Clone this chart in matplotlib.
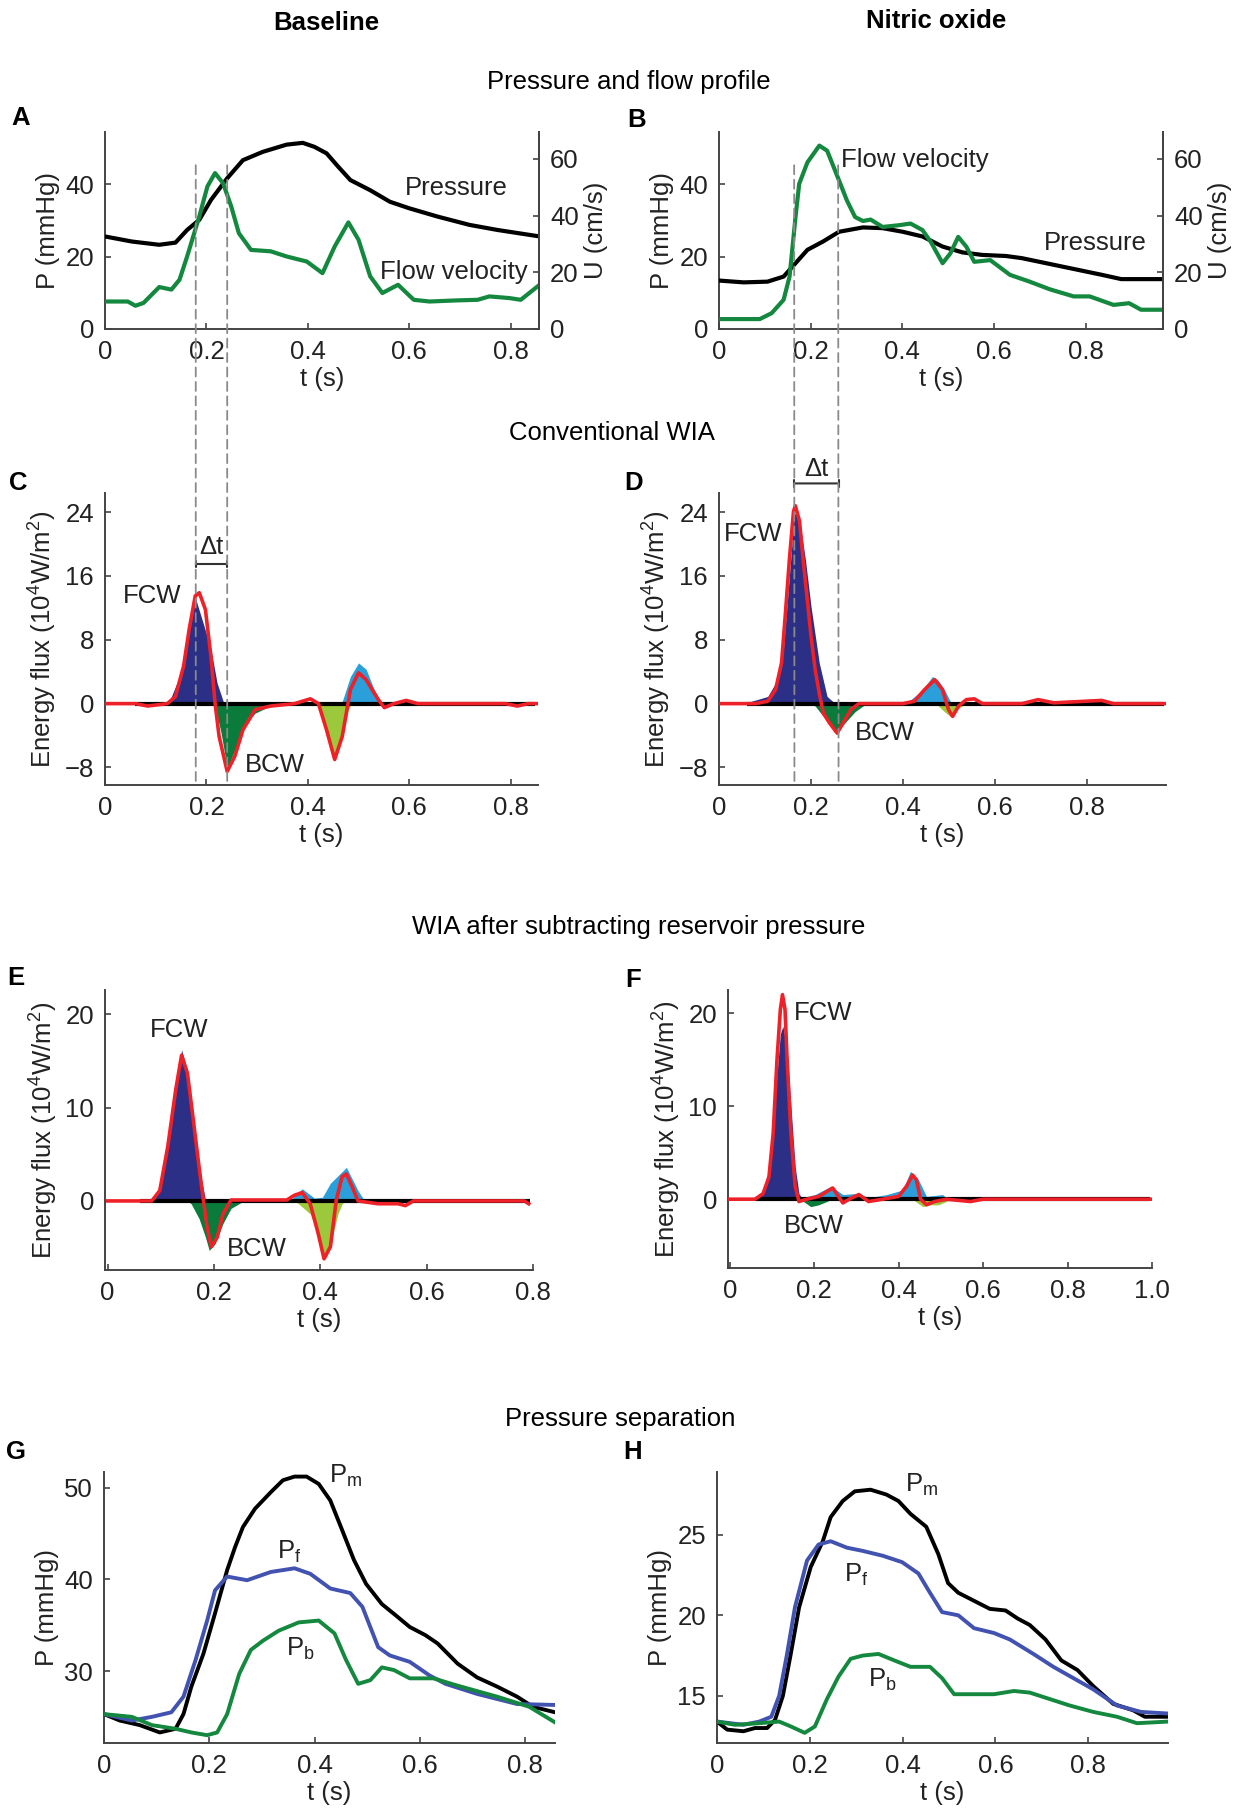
import numpy as np
import matplotlib
matplotlib.use('Agg')
import matplotlib.pyplot as plt
from matplotlib.patches import ConnectionPatch
from matplotlib import font_manager

# ---------------- data ----------------
# Panel A (baseline pressure / flow)
A_P_t = [0, 0.053, 0.107, 0.139, 0.162, 0.186, 0.209, 0.241, 0.272, 0.311, 0.358, 0.39, 0.413, 0.437, 0.46, 0.484, 0.523, 0.562, 0.6, 0.656, 0.719, 0.774, 0.853]
A_P = [25.6, 24.2, 23.3, 23.9, 27.4, 30.2, 35.7, 41.7, 46.7, 49.0, 51.0, 51.5, 50.4, 48.6, 44.9, 41.2, 38.4, 35.2, 33.4, 31.1, 28.8, 27.4, 25.7]
A_U_t = [0, 0.045, 0.06, 0.076, 0.107, 0.131, 0.147, 0.162, 0.186, 0.202, 0.217, 0.233, 0.249, 0.264, 0.288, 0.327, 0.358, 0.398, 0.429, 0.453, 0.48, 0.5, 0.523, 0.547, 0.578, 0.609, 0.64, 0.696, 0.735, 0.758, 0.798, 0.82, 0.853]
A_U = [9.7, 9.7, 8.2, 9.2, 14.8, 13.9, 17.4, 25.6, 39.7, 50.3, 55.0, 51.4, 43.2, 33.8, 27.9, 27.4, 25.6, 23.8, 19.7, 29.1, 37.6, 31.5, 18.6, 12.7, 15.6, 10.3, 9.7, 10.1, 10.3, 11.5, 10.9, 10.3, 15.0]

# Panel B (nitric oxide pressure / flow)
B_P_t = [0, 0.054, 0.106, 0.141, 0.167, 0.193, 0.227, 0.262, 0.314, 0.357, 0.401, 0.444, 0.488, 0.531, 0.574, 0.626, 0.661, 0.748, 0.835, 0.878, 0.965]
B_P = [13.4, 12.9, 13.1, 14.5, 18.2, 21.9, 24.2, 26.9, 28.1, 27.9, 26.9, 25.6, 22.8, 21.2, 20.5, 20.2, 19.6, 17.3, 15.0, 13.8, 13.8]
B_U_t = [0, 0.089, 0.115, 0.141, 0.154, 0.167, 0.175, 0.193, 0.219, 0.236, 0.262, 0.279, 0.297, 0.314, 0.331, 0.357, 0.392, 0.418, 0.444, 0.462, 0.488, 0.505, 0.522, 0.54, 0.557, 0.592, 0.635, 0.678, 0.722, 0.774, 0.809, 0.861, 0.895, 0.921, 0.965]
B_U = [3.5, 3.5, 5.6, 10.3, 18.5, 39.5, 51.2, 58.8, 64.7, 62.9, 52.4, 45.4, 39.5, 38.1, 38.6, 36.0, 36.6, 37.2, 34.9, 30.8, 23.2, 26.7, 32.5, 29.0, 23.7, 24.3, 19.1, 16.7, 14.0, 11.5, 11.5, 8.5, 9.1, 6.8, 6.8]

# Panel C (conventional WIA, baseline)
C_net_t = [0, 0.06, 0.084, 0.123, 0.139, 0.155, 0.166, 0.178, 0.186, 0.198, 0.209, 0.217, 0.225, 0.241, 0.256, 0.272, 0.296, 0.327, 0.374, 0.405, 0.421, 0.437, 0.453, 0.468, 0.484, 0.5, 0.515, 0.539, 0.551, 0.57, 0.594, 0.617, 0.79, 0.813, 0.835, 0.854]
C_net = [0, 0, -0.3, 0, 0.9, 4.7, 9.3, 13.5, 13.9, 11.8, 5.9, 0.1, -4.1, -8.5, -6.6, -3.3, -0.75, -0.3, 0, 0.6, 0, -3.3, -7.0, -4.1, 1.75, 3.85, 3.0, 0.5, -0.5, 0, 0.4, 0, 0, -0.3, 0, 0]
C_fw1_t = [0.125, 0.131, 0.147, 0.162, 0.178, 0.194, 0.209, 0.221, 0.233, 0.24]
C_fw1 = [0, 0.9, 3.4, 7.6, 13.3, 10.0, 6.8, 2.6, 0.3, 0]
C_fw2_t = [0.46, 0.468, 0.484, 0.5, 0.515, 0.531, 0.543, 0.55]
C_fw2 = [0, 0.3, 3.4, 5.1, 4.3, 1.75, 0.3, 0]
C_bw1_t = [0.21, 0.217, 0.229, 0.241, 0.256, 0.272, 0.296, 0.319, 0.335]
C_bw1 = [0, -0.3, -3.7, -8.1, -5.8, -2.8, -1.2, -0.5, 0]
C_bw2_t = [0.41, 0.42, 0.437, 0.453, 0.468, 0.48, 0.486]
C_bw2 = [0, -0.3, -3.3, -7.0, -4.1, -0.75, 0]

# Panel D (conventional WIA, nitric oxide)
D_net_t = [0, 0.08, 0.106, 0.123, 0.136, 0.144, 0.153, 0.162, 0.166, 0.175, 0.183, 0.192, 0.2, 0.209, 0.218, 0.227, 0.24, 0.257, 0.27, 0.287, 0.304, 0.4, 0.425, 0.447, 0.469, 0.486, 0.499, 0.508, 0.521, 0.538, 0.555, 0.573, 0.659, 0.694, 0.728, 0.832, 0.858, 0.944, 0.97]
D_net = [0, 0, 0.3, 1.75, 5.1, 11.0, 18.0, 24.1, 24.8, 22.9, 18.0, 13.0, 8.5, 4.3, 1.3, -1.2, -2.4, -3.7, -2.4, -0.75, 0, 0, 0.3, 1.75, 3.0, 1.75, -0.75, -1.6, -0.3, 0.5, 0.6, 0, 0, 0.5, 0.1, 0.4, 0, 0, 0]
D_fw1_t = [0.065, 0.071, 0.106, 0.123, 0.14, 0.153, 0.164, 0.175, 0.188, 0.2, 0.218, 0.235, 0.253]
D_fw1 = [0, 0.3, 0.9, 2.6, 6.8, 16.0, 23.9, 23.1, 18.0, 12.2, 5.1, 0.9, 0]
D_fw2_t = [0.41, 0.417, 0.443, 0.464, 0.477, 0.49, 0.503, 0.51]
D_fw2 = [0, 0.5, 1.75, 3.4, 2.9, 1.75, 0.3, 0]
D_bw1_t = [0.2, 0.209, 0.227, 0.244, 0.257, 0.274, 0.296, 0.313, 0.325]
D_bw1 = [0, -0.3, -1.6, -2.6, -3.5, -2.4, -1.0, -0.3, 0]
D_bw2_t = [0.475, 0.477, 0.49, 0.503, 0.516, 0.529, 0.535]
D_bw2 = [0, -0.3, -1.0, -1.6, -0.75, -0.3, 0]

# Panel E (WIA after reservoir subtraction, baseline)
E_net_t = [0, 0.083, 0.098, 0.113, 0.128, 0.139, 0.15, 0.161, 0.172, 0.18, 0.187, 0.195, 0.206, 0.217, 0.232, 0.337, 0.351, 0.366, 0.381, 0.396, 0.407, 0.419, 0.43, 0.441, 0.449, 0.46, 0.471, 0.508, 0.546, 0.56, 0.575, 0.784, 0.792]
E_net = [0, 0, 1.1, 5.8, 11.9, 15.6, 13.7, 8.7, 3.6, 0.1, -2.8, -4.9, -3.9, -1.4, 0.1, 0.1, 0.6, 0.9, -0.3, -3.5, -6.2, -4.9, 0.1, 2.6, 2.9, 1.5, 0, -0.3, -0.3, -0.5, 0, 0, -0.3]
E_fw1_t = [0.08, 0.087, 0.098, 0.113, 0.128, 0.139, 0.15, 0.161, 0.172, 0.184, 0.19]
E_fw1 = [0, 0.1, 1.5, 5.8, 11.5, 16.2, 14.0, 9.4, 3.6, 0.1, 0]
E_fw2_t = [0.34, 0.344, 0.366, 0.389, 0.404, 0.419, 0.449, 0.471, 0.482, 0.486]
E_fw2 = [0, 0.1, 1.3, 0.3, 0.4, 1.9, 3.6, 1.1, 0.1, 0]
E_bw1_t = [0.15, 0.157, 0.172, 0.184, 0.191, 0.202, 0.217, 0.232, 0.247, 0.255]
E_bw1 = [0, -0.3, -1.9, -3.9, -5.3, -4.6, -2.4, -0.8, -0.3, 0]
E_bw2_t = [0.352, 0.359, 0.381, 0.396, 0.407, 0.419, 0.433, 0.441, 0.446]
E_bw2 = [0, -0.3, -1.4, -3.5, -5.7, -4.6, -1.4, -0.3, 0]

# Panel F (WIA after reservoir subtraction, nitric oxide)
F_net_t = [0, 0.06, 0.079, 0.093, 0.103, 0.112, 0.12, 0.125, 0.131, 0.136, 0.145, 0.155, 0.164, 0.183, 0.211, 0.244, 0.268, 0.287, 0.306, 0.329, 0.362, 0.4, 0.419, 0.433, 0.442, 0.452, 0.466, 0.485, 0.513, 0.57, 0.6, 1.0]
F_net = [0, 0, 0.6, 2.4, 7.1, 15.0, 20.4, 22.0, 20.4, 15.0, 7.1, 1.4, -0.25, 0, 0.3, 1.2, -0.4, 0.1, 0.5, -0.25, 0, 0.3, 1.4, 2.6, 2.1, 0, -0.6, -0.25, 0, -0.25, 0, 0]
F_fw1_t = [0.065, 0.079, 0.093, 0.107, 0.12, 0.126, 0.136, 0.145, 0.155, 0.164, 0.173]
F_fw1 = [0, 1.0, 3.2, 10.7, 17.8, 18.6, 16.0, 10.0, 3.5, 0.6, 0]
F_fw2_t = [0.17, 0.174, 0.202, 0.24, 0.268, 0.296, 0.334, 0.372, 0.41, 0.428, 0.447, 0.466, 0.504, 0.518]
F_fw2 = [0, 0.2, 0.5, 1.4, 0.5, 0.6, 0.2, 0.5, 1.0, 3.0, 2.1, 0.3, 0.5, 0]
F_bw1_t = [0.164, 0.17, 0.192, 0.211, 0.23, 0.24]
F_bw1 = [0, -0.1, -0.8, -0.6, -0.25, 0]
F_bw2_t = [0.43, 0.436, 0.457, 0.476, 0.494, 0.513, 0.52]
F_bw2 = [0, -0.1, -0.8, -0.6, -0.6, -0.25, 0]

# Panel G (pressure separation, baseline)
G_m_t = [0, 0.03, 0.068, 0.106, 0.136, 0.151, 0.166, 0.189, 0.211, 0.234, 0.249, 0.264, 0.287, 0.317, 0.34, 0.362, 0.385, 0.408, 0.43, 0.453, 0.475, 0.498, 0.528, 0.558, 0.581, 0.611, 0.634, 0.672, 0.709, 0.747, 0.785, 0.815, 0.857]
G_m = [25.3, 24.6, 24.1, 23.3, 23.7, 25.3, 28.3, 31.9, 36.3, 41.0, 43.5, 45.7, 47.7, 49.5, 50.8, 51.2, 51.2, 50.4, 48.6, 45.3, 42.1, 39.5, 37.3, 35.9, 34.8, 33.9, 33.0, 30.8, 29.3, 28.3, 27.2, 26.1, 25.5]
G_f_t = [0, 0.053, 0.091, 0.128, 0.151, 0.174, 0.196, 0.211, 0.234, 0.272, 0.317, 0.362, 0.392, 0.43, 0.468, 0.491, 0.521, 0.543, 0.581, 0.619, 0.649, 0.709, 0.785, 0.857]
G_f = [25.3, 24.6, 25.0, 25.5, 27.2, 31.2, 35.5, 38.8, 40.3, 39.9, 40.8, 41.2, 40.6, 39.0, 38.5, 37.0, 32.6, 31.7, 31.0, 29.5, 28.6, 27.5, 26.4, 26.3]
G_b_t = [0, 0.053, 0.091, 0.136, 0.166, 0.196, 0.215, 0.234, 0.257, 0.279, 0.302, 0.332, 0.37, 0.408, 0.438, 0.46, 0.483, 0.506, 0.528, 0.551, 0.581, 0.626, 0.672, 0.747, 0.808, 0.857]
G_b = [25.3, 25.0, 24.1, 23.7, 23.3, 23.0, 23.3, 25.3, 29.7, 32.3, 33.3, 34.4, 35.3, 35.5, 34.1, 31.2, 28.6, 29.0, 30.4, 30.1, 29.2, 29.2, 28.4, 27.2, 26.1, 24.4]

# Panel H (pressure separation, nitric oxide)
H_m_t = [0, 0.022, 0.057, 0.082, 0.108, 0.125, 0.142, 0.159, 0.177, 0.202, 0.228, 0.245, 0.271, 0.297, 0.331, 0.365, 0.391, 0.417, 0.451, 0.477, 0.498, 0.52, 0.554, 0.588, 0.622, 0.648, 0.674, 0.708, 0.742, 0.777, 0.811, 0.854, 0.897, 0.922, 0.972]
H_m = [13.4, 12.9, 12.8, 13.0, 13.0, 13.5, 15.0, 17.6, 20.5, 23.0, 24.6, 26.1, 27.1, 27.7, 27.8, 27.5, 27.1, 26.3, 25.5, 23.8, 22.0, 21.4, 20.9, 20.4, 20.3, 19.8, 19.4, 18.5, 17.2, 16.6, 15.6, 14.5, 14.1, 13.7, 13.7]
H_f_t = [0, 0.057, 0.091, 0.117, 0.134, 0.151, 0.168, 0.194, 0.219, 0.245, 0.28, 0.314, 0.357, 0.399, 0.434, 0.459, 0.485, 0.52, 0.554, 0.597, 0.631, 0.682, 0.725, 0.768, 0.811, 0.862, 0.914, 0.972]
H_f = [13.4, 13.2, 13.4, 13.7, 15.0, 17.6, 20.5, 23.4, 24.4, 24.6, 24.2, 24.0, 23.7, 23.3, 22.6, 21.4, 20.2, 20.0, 19.2, 18.9, 18.5, 17.6, 16.8, 16.1, 15.4, 14.4, 14.0, 13.9]
H_b_t = [0, 0.039, 0.091, 0.134, 0.159, 0.189, 0.211, 0.237, 0.262, 0.288, 0.314, 0.348, 0.382, 0.417, 0.459, 0.485, 0.511, 0.537, 0.571, 0.597, 0.64, 0.674, 0.717, 0.76, 0.811, 0.862, 0.905, 0.972]
H_b = [13.4, 13.2, 13.3, 13.4, 13.1, 12.7, 13.1, 14.8, 16.2, 17.3, 17.5, 17.6, 17.2, 16.8, 16.8, 16.1, 15.1, 15.1, 15.1, 15.1, 15.3, 15.2, 14.8, 14.4, 14.0, 13.7, 13.3, 13.4]

# wave-arrival markers (s)
AC_marks = [0.179, 0.241]
BD_marks = [0.164, 0.260]

# tick labels
XT_08 = [0, 0.2, 0.4, 0.6, 0.8]
XT_08_lab = ['0', '0.2', '0.4', '0.6', '0.8']
XT_10 = [0, 0.2, 0.4, 0.6, 0.8, 1.0]
XT_10_lab = ['0', '0.2', '0.4', '0.6', '0.8', '1.0']
YT_P = [0, 20, 40]
YT_U = [0, 20, 40, 60]
YT_CD = [-8, 0, 8, 16, 24]
YT_EF = [0, 10, 20]
YT_G = [30, 40, 50]
YT_H = [15, 20, 25]

# ---------------- style ----------------
names = {f.name for f in font_manager.fontManager.ttflist}
fam = [f for f in ['Liberation Sans', 'DejaVu Sans'] if f in names]
plt.rcParams['font.family'] = fam
plt.rcParams['mathtext.fontset'] = 'custom'
plt.rcParams['mathtext.rm'] = fam[0]
plt.rcParams['mathtext.it'] = fam[0]
plt.rcParams['mathtext.default'] = 'regular'

TXT = '#222222'
SP = '#444444'
FS = 18.5
RED = '#ee2028'
NAVY = '#2b2f86'
LBLUE = '#2a9fda'
DGREEN = '#0b7b3b'
YGREEN = '#9cc93b'
FLOWG = '#14883e'
PBLUE = '#4152b0'

W, H = 1248, 1812
fig = plt.figure(figsize=(W / 100, H / 100), dpi=100)


def add_ax(l, r, t, b):
    return fig.add_axes([l / W, 1 - b / H, (r - l) / W, (b - t) / H])


def style(ax, right=False):
    for s in ['top'] + ([] if right else ['right']):
        ax.spines[s].set_visible(False)
    for s in ax.spines.values():
        s.set_color(SP)
        s.set_linewidth(1.4)
    ax.tick_params(direction='in', length=4, width=1.2, colors=SP, labelcolor=TXT,
                   labelsize=FS, pad=8)


def xt(ax, ticks, labs):
    ax.set_xticks(ticks)
    ax.set_xticklabels(labs)
    ax.set_xlabel('t (s)', fontsize=FS, color=TXT, labelpad=2)


# ---- A / B ----
def pf_panel(ax, Pt, P, Ut, U, xmax, labs):
    style(ax)
    ax.spines['right'].set_visible(True)
    ax.plot(Pt, P, color='black', lw=3, zorder=3)
    ax.set_xlim(0, xmax)
    ax.set_ylim(0, 54.5)
    ax.set_yticks(YT_P)
    ax.set_ylabel('P (mmHg)', fontsize=FS, color=TXT, labelpad=4)
    xt(ax, XT_08, XT_08_lab)
    ax2 = ax.twinx()
    style(ax2, right=True)
    ax2.spines['left'].set_visible(False)
    ax2.spines['bottom'].set_visible(False)
    ax2.plot(Ut, U, color=FLOWG, lw=3)
    ax2.set_ylim(0, 69.5)
    ax2.set_yticks(YT_U)
    ax2.set_ylabel('U (cm/s)', fontsize=FS, color=TXT, labelpad=4)
    for (tx, ty, s) in labs:
        ax.text(tx, ty, s, fontsize=FS, color=TXT, ha='center', va='center', zorder=5)
    return ax2


axA = add_ax(105, 539, 132, 329)
pf_panel(axA, A_P_t, A_P, A_U_t, A_U, 0.856,
         [(0.692, 39.1, 'Pressure'), (0.688, 15.9, 'Flow velocity')])
axB = add_ax(719, 1163, 132, 329)
pf_panel(axB, B_P_t, B_P, B_U_t, B_U, 0.969,
         [(0.427, 46.7, 'Flow velocity'), (0.822, 23.9, 'Pressure')])


# ---- wave intensity panels ----
def wia_panel(ax, net_t, net, fw1, fw2, bw1, bw2, xlim, ylim, yt, xticks, xlabs):
    style(ax)
    ax.fill_between(fw1[0], fw1[1], 0, color=NAVY, lw=0, zorder=2)
    ax.fill_between(fw2[0], fw2[1], 0, color=LBLUE, lw=0, zorder=2)
    ax.fill_between(bw1[0], bw1[1], 0, color=DGREEN, lw=0, zorder=2)
    ax.fill_between(bw2[0], bw2[1], 0, color=YGREEN, lw=0, zorder=2)
    ax.plot([0.06, xlim[1] - 0.005], [0, 0], color='black', lw=3, zorder=3,
            solid_capstyle='butt')
    ax.plot(net_t, net, color=RED, lw=2.6, zorder=4)
    ax.set_xlim(*xlim)
    ax.set_ylim(*ylim)
    ax.set_yticks(yt)
    ax.set_ylabel('Energy flux (10$^4$W/m$^2$)', fontsize=FS, color=TXT, labelpad=4)
    xt(ax, xticks, xlabs)


axC = add_ax(105, 538, 493, 785)
wia_panel(axC, C_net_t, C_net, (C_fw1_t, C_fw1), (C_fw2_t, C_fw2), (C_bw1_t, C_bw1),
          (C_bw2_t, C_bw2), (0, 0.854), (-10.2, 26.4), YT_CD, XT_08, XT_08_lab)
axC.text(0.092, 13.5, 'FCW', fontsize=FS, color=TXT, ha='center', va='center')
axC.text(0.335, -7.7, 'BCW', fontsize=FS, color=TXT, ha='center', va='center')

axD = add_ax(719, 1166, 493, 785)
wia_panel(axD, D_net_t, D_net, (D_fw1_t, D_fw1), (D_fw2_t, D_fw2), (D_bw1_t, D_bw1),
          (D_bw2_t, D_bw2), (0, 0.972), (-10.2, 26.4), YT_CD, XT_08, XT_08_lab)
axD.text(0.075, 21.2, 'FCW', fontsize=FS, color=TXT, ha='center', va='center')
axD.text(0.36, -3.7, 'BCW', fontsize=FS, color=TXT, ha='center', va='center')

axE = add_ax(105, 533, 990, 1270)
wia_panel(axE, E_net_t, E_net, (E_fw1_t, E_fw1), (E_fw2_t, E_fw2), (E_bw1_t, E_bw1),
          (E_bw2_t, E_bw2), (-0.005, 0.8), (-7.4, 22.6), YT_EF, XT_08, XT_08_lab)
axE.text(0.135, 18.3, 'FCW', fontsize=FS, color=TXT, ha='center', va='center')
axE.text(0.28, -5.1, 'BCW', fontsize=FS, color=TXT, ha='center', va='center')

axF = add_ax(728, 1152, 990, 1268)
wia_panel(axF, F_net_t, F_net, (F_fw1_t, F_fw1), (F_fw2_t, F_fw2), (F_bw1_t, F_bw1),
          (F_bw2_t, F_bw2), (-0.004, 1.0), (-7.4, 22.5), YT_EF, XT_10, XT_10_lab)
axF.text(0.221, 20.0, 'FCW', fontsize=FS, color=TXT, ha='center', va='center')
axF.text(0.2, -2.9, 'BCW', fontsize=FS, color=TXT, ha='center', va='center')

# delta-t bars
for ax, marks, ybar, ytxt in [(axC, AC_marks, 17.5, 19.6), (axD, BD_marks, 27.6, 29.4)]:
    ax.annotate('', xy=(marks[0], ybar), xytext=(marks[1], ybar),
                arrowprops=dict(arrowstyle='|-|, widthA=0.25, widthB=0.25', color='#333333', lw=1.5,
                                shrinkA=0, shrinkB=0), annotation_clip=False)
    ax.text(np.mean(marks), ytxt, '\u0394t', fontsize=FS, color=TXT, ha='center', va='center',
            clip_on=False)

# dashed connector lines from pressure panel to WIA panel
for axT, axW, marks in [(axA, axC, AC_marks), (axB, axD, BD_marks)]:
    for m in marks:
        cp = ConnectionPatch(xyA=(m, 45.3), coordsA=axT.transData,
                             xyB=(m, axW.get_ylim()[0]), coordsB=axW.transData,
                             linestyle=(0, (5, 3)), color='#8a8a8a', lw=1.3, zorder=1)
        fig.add_artist(cp)


# ---- pressure separation ----
def sep_panel(ax, m, f, b, xmax, ylim, yt, labs):
    style(ax)
    ax.plot(m[0], m[1], color='black', lw=2.8, zorder=3)
    ax.plot(f[0], f[1], color=PBLUE, lw=2.8, zorder=3)
    ax.plot(b[0], b[1], color=FLOWG, lw=2.8, zorder=3)
    ax.set_xlim(0, xmax)
    ax.set_ylim(*ylim)
    ax.set_yticks(yt)
    ax.set_ylabel('P (mmHg)', fontsize=FS, color=TXT, labelpad=4)
    xt(ax, XT_08, XT_08_lab)
    for (tx, ty, s) in labs:
        ax.text(tx, ty, s, fontsize=FS, color=TXT, ha='center', va='center')


axG = add_ax(104, 555, 1472, 1743)
sep_panel(axG, (G_m_t, G_m), (G_f_t, G_f), (G_b_t, G_b), 0.857, (22.15, 51.7), YT_G,
          [(0.46, 51.3, 'P$_m$'), (0.351, 43.0, 'P$_f$'), (0.374, 32.4, 'P$_b$')])
axH = add_ax(717, 1168, 1472, 1743)
sep_panel(axH, (H_m_t, H_m), (H_f_t, H_f), (H_b_t, H_b), 0.972, (12.07, 28.9), YT_H,
          [(0.442, 28.1, 'P$_m$'), (0.301, 22.5, 'P$_f$'), (0.357, 16.0, 'P$_b$')])

# ---- figure texts ----
def ftext(x, y, s, **kw):
    fig.text(x / W, 1 - y / H, s, ha='center', va='center', color='black', **kw)


ftext(326, 23, 'Baseline', fontsize=FS, fontweight='bold')
ftext(936, 21, 'Nitric oxide', fontsize=FS, fontweight='bold')
ftext(629, 82, 'Pressure and flow profile', fontsize=FS)
ftext(612, 433, 'Conventional WIA', fontsize=FS)
ftext(639, 927, 'WIA after subtracting reservoir pressure', fontsize=FS)
ftext(620, 1419, 'Pressure separation', fontsize=FS)
for (x, y, s) in [(21, 118, 'A'), (637, 120, 'B'), (18, 483, 'C'), (634, 483, 'D'),
                  (16, 978, 'E'), (633, 980, 'F'), (16, 1452, 'G'), (633, 1452, 'H')]:
    ftext(x, y, s, fontsize=FS, fontweight='bold')

fig.savefig('out.png', dpi=100, facecolor='white')
